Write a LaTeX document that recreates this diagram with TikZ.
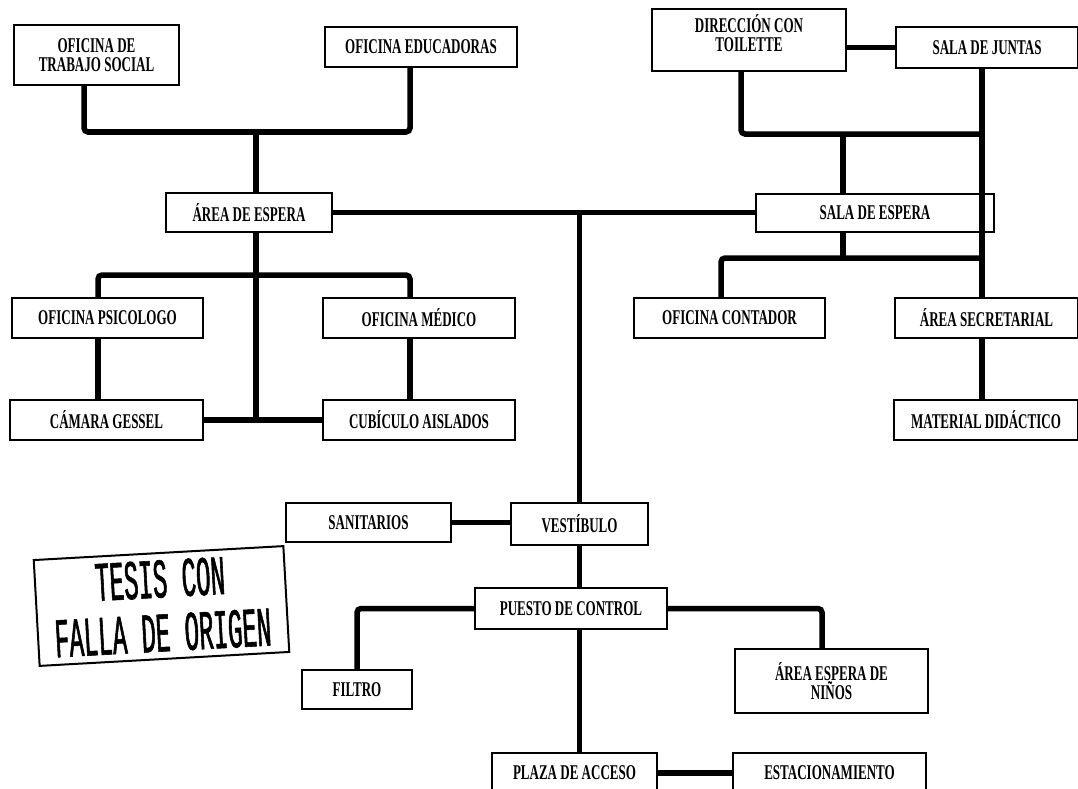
\documentclass[tikz,border=0pt]{standalone}
\usepackage{fontspec}
\setmainfont[FakeStretch=0.62]{Liberation Serif}
\newfontfamily\stampfont[FakeStretch=0.43, FakeBold=1]{Liberation Mono}

\begin{document}
\begin{tikzpicture}[x=1pt, y=-1pt,
  room/.style={draw, line width=2pt, inner sep=0pt, minimum height=40pt, align=center,
    font=\fontsize{21}{19}\selectfont\bfseries},
  link/.style={line width=5.5pt, rounded corners=4pt}]
  \useasboundingbox (0,0) rectangle (1078,789);

  % left wing
  \node[room, minimum width=165pt, minimum height=60pt] (trabajo) at (96.5,55) {OFICINA DE\\TRABAJO SOCIAL};
  \node[room, minimum width=192pt] (educadoras) at (421,47) {OFICINA EDUCADORAS};
  \node[room, minimum width=166pt, minimum height=39pt] (areaespera) at (249,212.5) {ÁREA DE ESPERA};
  \node[room, minimum width=191pt] (psicologo) at (107.5,318) {OFICINA PSICOLOGO};
  \node[room, minimum width=192pt] (medico) at (419,318) {OFICINA MÉDICO};
  \node[room, minimum width=193pt] (gessel) at (106.5,420) {CÁMARA GESSEL};
  \node[room, minimum width=192pt] (cubiculo) at (419,420) {CUBÍCULO AISLADOS};

  % right wing
  \node[room, minimum width=194pt, minimum height=62pt, text depth=15pt] (direccion) at (749,40) {DIRECCIÓN CON\\TOILETTE};
  \node[room, minimum width=182pt, minimum height=41pt] (juntas) at (987,47.5) {SALA DE JUNTAS};
  \node[room, minimum width=238pt, minimum height=38pt] (salaespera) at (875,213) {SALA DE ESPERA};
  \node[room, minimum width=191pt] (contador) at (729.5,318) {OFICINA CONTADOR};
  \node[room, minimum width=183pt] (secretarial) at (986.5,318) {ÁREA SECRETARIAL};
  \node[room, minimum width=184pt] (didactico) at (986,420) {MATERIAL DIDÁCTICO};

  % entrance
  \node[room, minimum width=165pt, minimum height=39pt] (sanitarios) at (368.5,522.5) {SANITARIOS};
  \node[room, minimum width=137pt, minimum height=42pt] (vestibulo) at (579.5,524) {VESTÍBULO};
  \node[room, minimum width=192pt, minimum height=41pt] (control) at (571,608.5) {PUESTO DE CONTROL};
  \node[room, minimum width=110pt, minimum height=39pt] (filtro) at (357,689.5) {FILTRO};
  \node[room, minimum width=193pt, minimum height=64pt] (ninos) at (831.5,681) {ÁREA ESPERA DE\\NIÑOS};
  \node[room, minimum width=165pt] (plaza) at (574.5,773) {PLAZA DE ACCESO};
  \node[room, minimum width=193pt] (estacionamiento) at (829.5,773) {ESTACIONAMIENTO};

  % junctions
  \coordinate (jtrabajo) at (256,132);
  \coordinate (jpsicologo) at (256,275);
  \coordinate (jdireccion) at (843,134);
  \coordinate (jcontador) at (843,258);

  % left connectors
  \draw[link] (trabajo.south -| 84,0) |- (jtrabajo) -| (educadoras.south -| 410,0);
  \draw[link] (jtrabajo) -- (areaespera.north -| jtrabajo);
  \draw[link] (areaespera.south -| jtrabajo) -- (gessel.east -| jtrabajo);
  \draw[link] (psicologo.north -| 98,0) |- (jpsicologo) -| (medico.north -| 410,0);
  \draw[link] (psicologo.south -| 98,0) -- (gessel.north -| 98,0);
  \draw[link] (medico.south -| 410,0) -- (cubiculo.north -| 410,0);
  \draw[link] (gessel.east) -- (cubiculo.west);

  % centre connectors
  \draw[link] (areaespera.east) -- (areaespera.east -| salaespera.west);
  \draw[link] (areaespera.east -| vestibulo.north) -- (vestibulo.north);
  \draw[link] (sanitarios.east) -- (sanitarios.east -| vestibulo.west);
  \draw[link] (vestibulo.south) -- (control.north -| vestibulo.south);
  \draw[link] (control.west) -| (filtro.north);
  \draw[link] (control.east) -| (ninos.north -| 822,0);
  \draw[link] (control.south -| vestibulo.south) -- (plaza.north -| vestibulo.south);
  \draw[link] (plaza.east) -- (estacionamiento.west);

  % right connectors
  \draw[link] (direccion.east |- juntas.west) -- (juntas.west);
  \draw[link] (direccion.south -| 741,0) |- (jdireccion -| 982,0);
  \draw[link] (juntas.south -| 982,0) -- (secretarial.north -| 982,0);
  \draw[link] (jdireccion) -- (salaespera.north -| jdireccion);
  \draw[link] (salaespera.south -| jdireccion) -- (jcontador);
  \draw[link] (contador.north -| 721,0) |- (jcontador -| 982,0);
  \draw[link] (secretarial.south -| 982,0) -- (didactico.north -| 982,0);

  % stamp
  \node[draw, line width=2pt, rotate=3.2, minimum width=250pt, minimum height=106pt, align=center,
        font=\stampfont\fontsize{56}{54}\selectfont] (stamp) at (161.5,606) {TESIS CON\\FALLA DE ORIGEN};
\end{tikzpicture}
\end{document}
